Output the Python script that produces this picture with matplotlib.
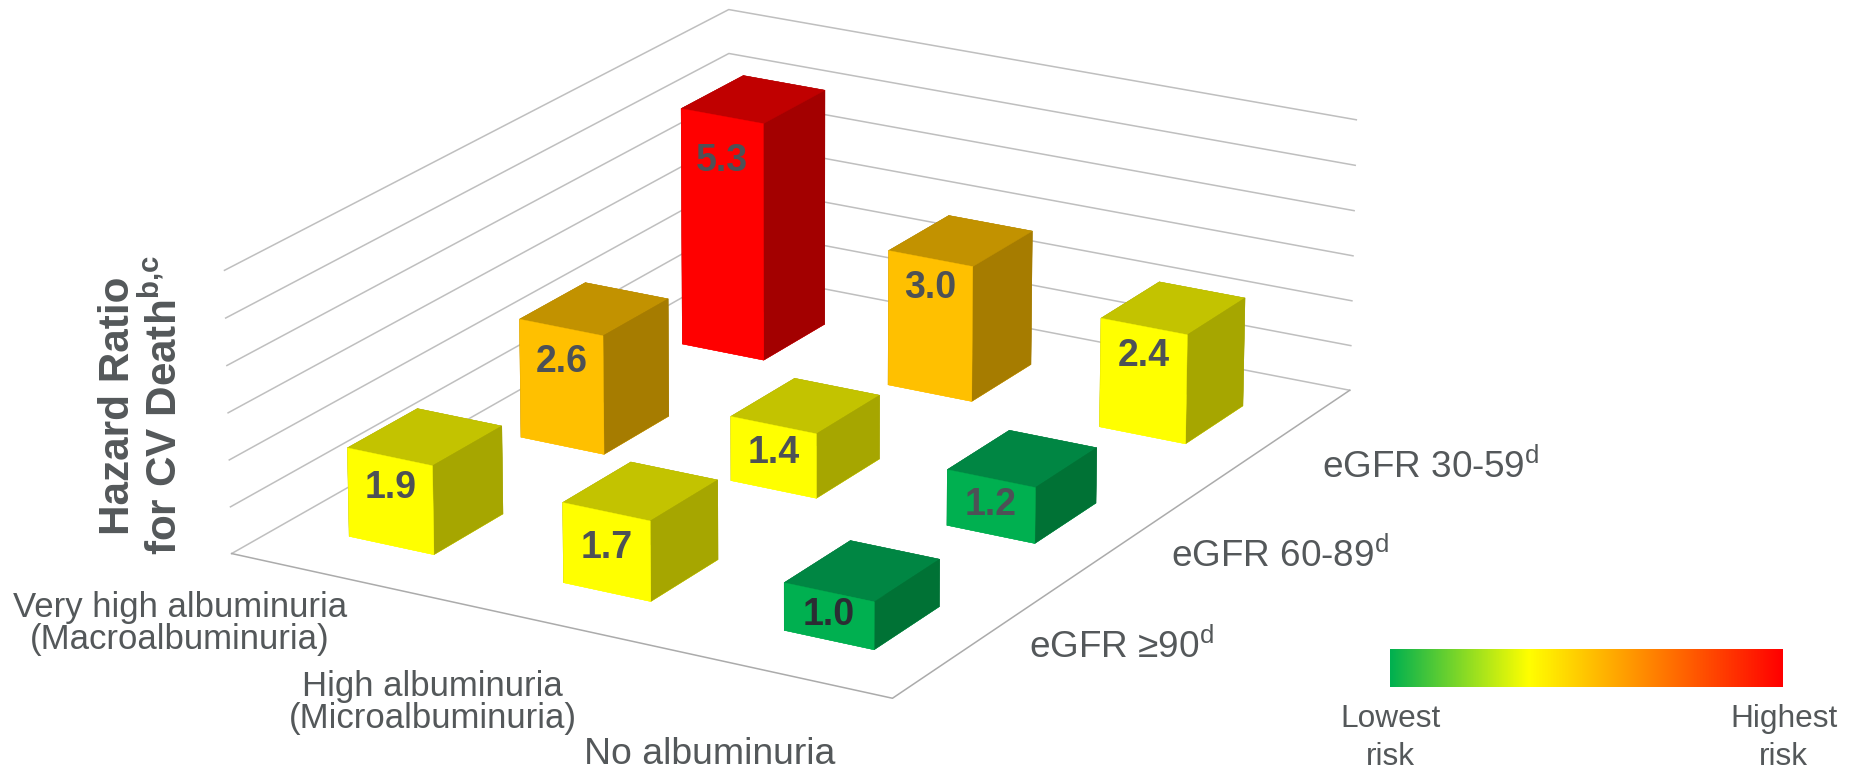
import numpy as np
import matplotlib
matplotlib.use('Agg')
import matplotlib.pyplot as plt
from matplotlib.colors import LinearSegmentedColormap
from mpl_toolkits.mplot3d import proj3d

plt.rcParams['font.family'] = ['Liberation Sans', 'DejaVu Sans']
plt.rcParams['mathtext.fontset'] = 'custom'
plt.rcParams['mathtext.rm'] = 'Liberation Sans'
plt.rcParams['mathtext.bf'] = 'Liberation Sans:bold'

albuminuria = ['Very high albuminuria\n(Macroalbuminuria)', 'High albuminuria\n(Microalbuminuria)', 'No albuminuria']
egfr = ['eGFR ≥90', 'eGFR 60-89', 'eGFR 30-59']
# one row per eGFR band, one column per albuminuria class
hazard_ratio = [[1.9, 1.7, 1.0],
                [2.6, 1.4, 1.2],
                [5.3, 3.0, 2.4]]
risk_tier = [['yellow', 'yellow', 'green'],
             ['orange', 'yellow', 'green'],
             ['red', 'orange', 'yellow']]
z_ticks = [0, 1, 2, 3, 4, 5, 6]

# front, top and side shade of each tier
tier_faces = {'green': ('#00B050', '#008643', '#007235'),
              'yellow': ('#FFFF00', '#C3C300', '#A6A600'),
              'orange': ('#FFC000', '#C29200', '#A67C00'),
              'red': ('#FF0000', '#C00000', '#A30000')}

W, H = 1857, 769
GREY = '#54585A'
LABEL = '#4D5156'
bar_w, bar_d = 0.399, 0.398

fig = plt.figure(figsize=(W / 100, H / 100), dpi=100, facecolor='white')

# square 3d axes, hangs off the bottom of the figure
L, B, S = 182.0, -186.7, 1214.1
ax = fig.add_axes([L / W, B / H, S / W, S / H], projection='3d', computed_zorder=False)
ax.set_xlim(0, 3, view_margin=0)
ax.set_ylim(0, 3, view_margin=0)
ax.set_zlim(0, 6, view_margin=0)
ax.view_init(19.861, -60.042, -0.013)
ax.set_proj_type('persp', focal_length=1.251)
ax.set_box_aspect((1, 1.295, 0.396))
ax.set_axis_off()

# wall gridlines and floor outline
n_x, n_y = len(albuminuria), len(egfr)
for z in z_ticks:
    ax.plot([0, 0, n_x], [0, n_y, n_y], [z, z, z], color='#BFBFBF', lw=1.1, zorder=1)
ax.plot([0, n_x, n_x], [0, 0, n_y], [0, 0, 0], color='#ABABAB', lw=1.1, zorder=1)

# how far below the bar top each value sits
label_drop = [[0.66, 0.76, 0.48],
              [0.75, 0.61, 0.56],
              [1.00, 0.65, 0.66]]

M = ax.get_proj()

# back to front
order = 2
for j in range(n_y - 1, -1, -1):
    for i in range(n_x):
        v = hazard_ratio[j][i]
        front, top, side = tier_faces[risk_tier[j][i]]
        # bar3d face order: -z, +z, -y, +y, -x, +x
        faces = [front, top, front, side, side, side]
        x0 = i + 0.5 - bar_w / 2
        y0 = j + 0.5 - bar_d / 2
        ax.bar3d(x0, y0, 0, bar_w, bar_d, v, color=faces, shade=False,
                 edgecolor=faces, linewidth=0.3, zorder=order)
        order += 1
        # value on the front face, projected so it stays a plain 2d text
        px, py, _ = proj3d.proj_transform(i + 0.5, y0, v - label_drop[j][i], M)
        ax.text2D(px, py, '%.1f' % v, transform=ax.transData, ha='center', va='center',
                  fontsize=27, fontweight='bold', zorder=50,
                  color='#2B2D33' if v == 1.0 else LABEL)


def put(x, y, s, **kw):
    # x, y in pixels from the top left corner
    fig.text(x / W, 1 - y / H, s, color=GREY, **kw)


# axis title
put(129, 535, 'Hazard Ratio', fontsize=30.4, fontweight='bold', rotation=90,
    rotation_mode='anchor', ha='left', va='baseline')
put(177, 555, r'for CV Death$^{\mathbf{b{,}c}}$', fontsize=30.4, fontweight='bold', rotation=90,
    rotation_mode='anchor', ha='left', va='baseline')

# albuminuria categories
alb_x = [180, 432.6, 710]
alb_base = [(616.7, 649), (696, 728), (764,)]
alb_size = [25, 25, 26.9]
for name, x, ys, size in zip(albuminuria, alb_x, alb_base, alb_size):
    for line, y in zip(name.split('\n'), ys):
        put(x, y, line, fontsize=size, ha='center', va='baseline')

# eGFR categories
for name, x, y in zip(egfr, [1028.6, 1171.4, 1322.5], [657.7, 566.7, 478]):
    put(x, y, name + r'$^{\mathrm{d}}$', fontsize=26.6, ha='left', va='baseline')

# risk scale
risk_stops = [(0, '#00B050'), (0.352, '#FFFF00'), (1, '#FF0000')]
cax = fig.add_axes([1390 / W, 1 - 687 / H, 393 / W, 38 / H])
cmap = LinearSegmentedColormap.from_list('risk', risk_stops)
cax.imshow(np.linspace(0, 1, 512).reshape(1, -1), cmap=cmap, aspect='auto')
cax.set_axis_off()
for x, txt in zip([1390.4, 1783.7], ['Lowest', 'Highest']):
    put(x, 726.7, txt, fontsize=22.8, ha='center', va='baseline')
    put(x, 765, 'risk', fontsize=22.8, ha='center', va='baseline')

fig.savefig('out.png', dpi=100, facecolor='white')
